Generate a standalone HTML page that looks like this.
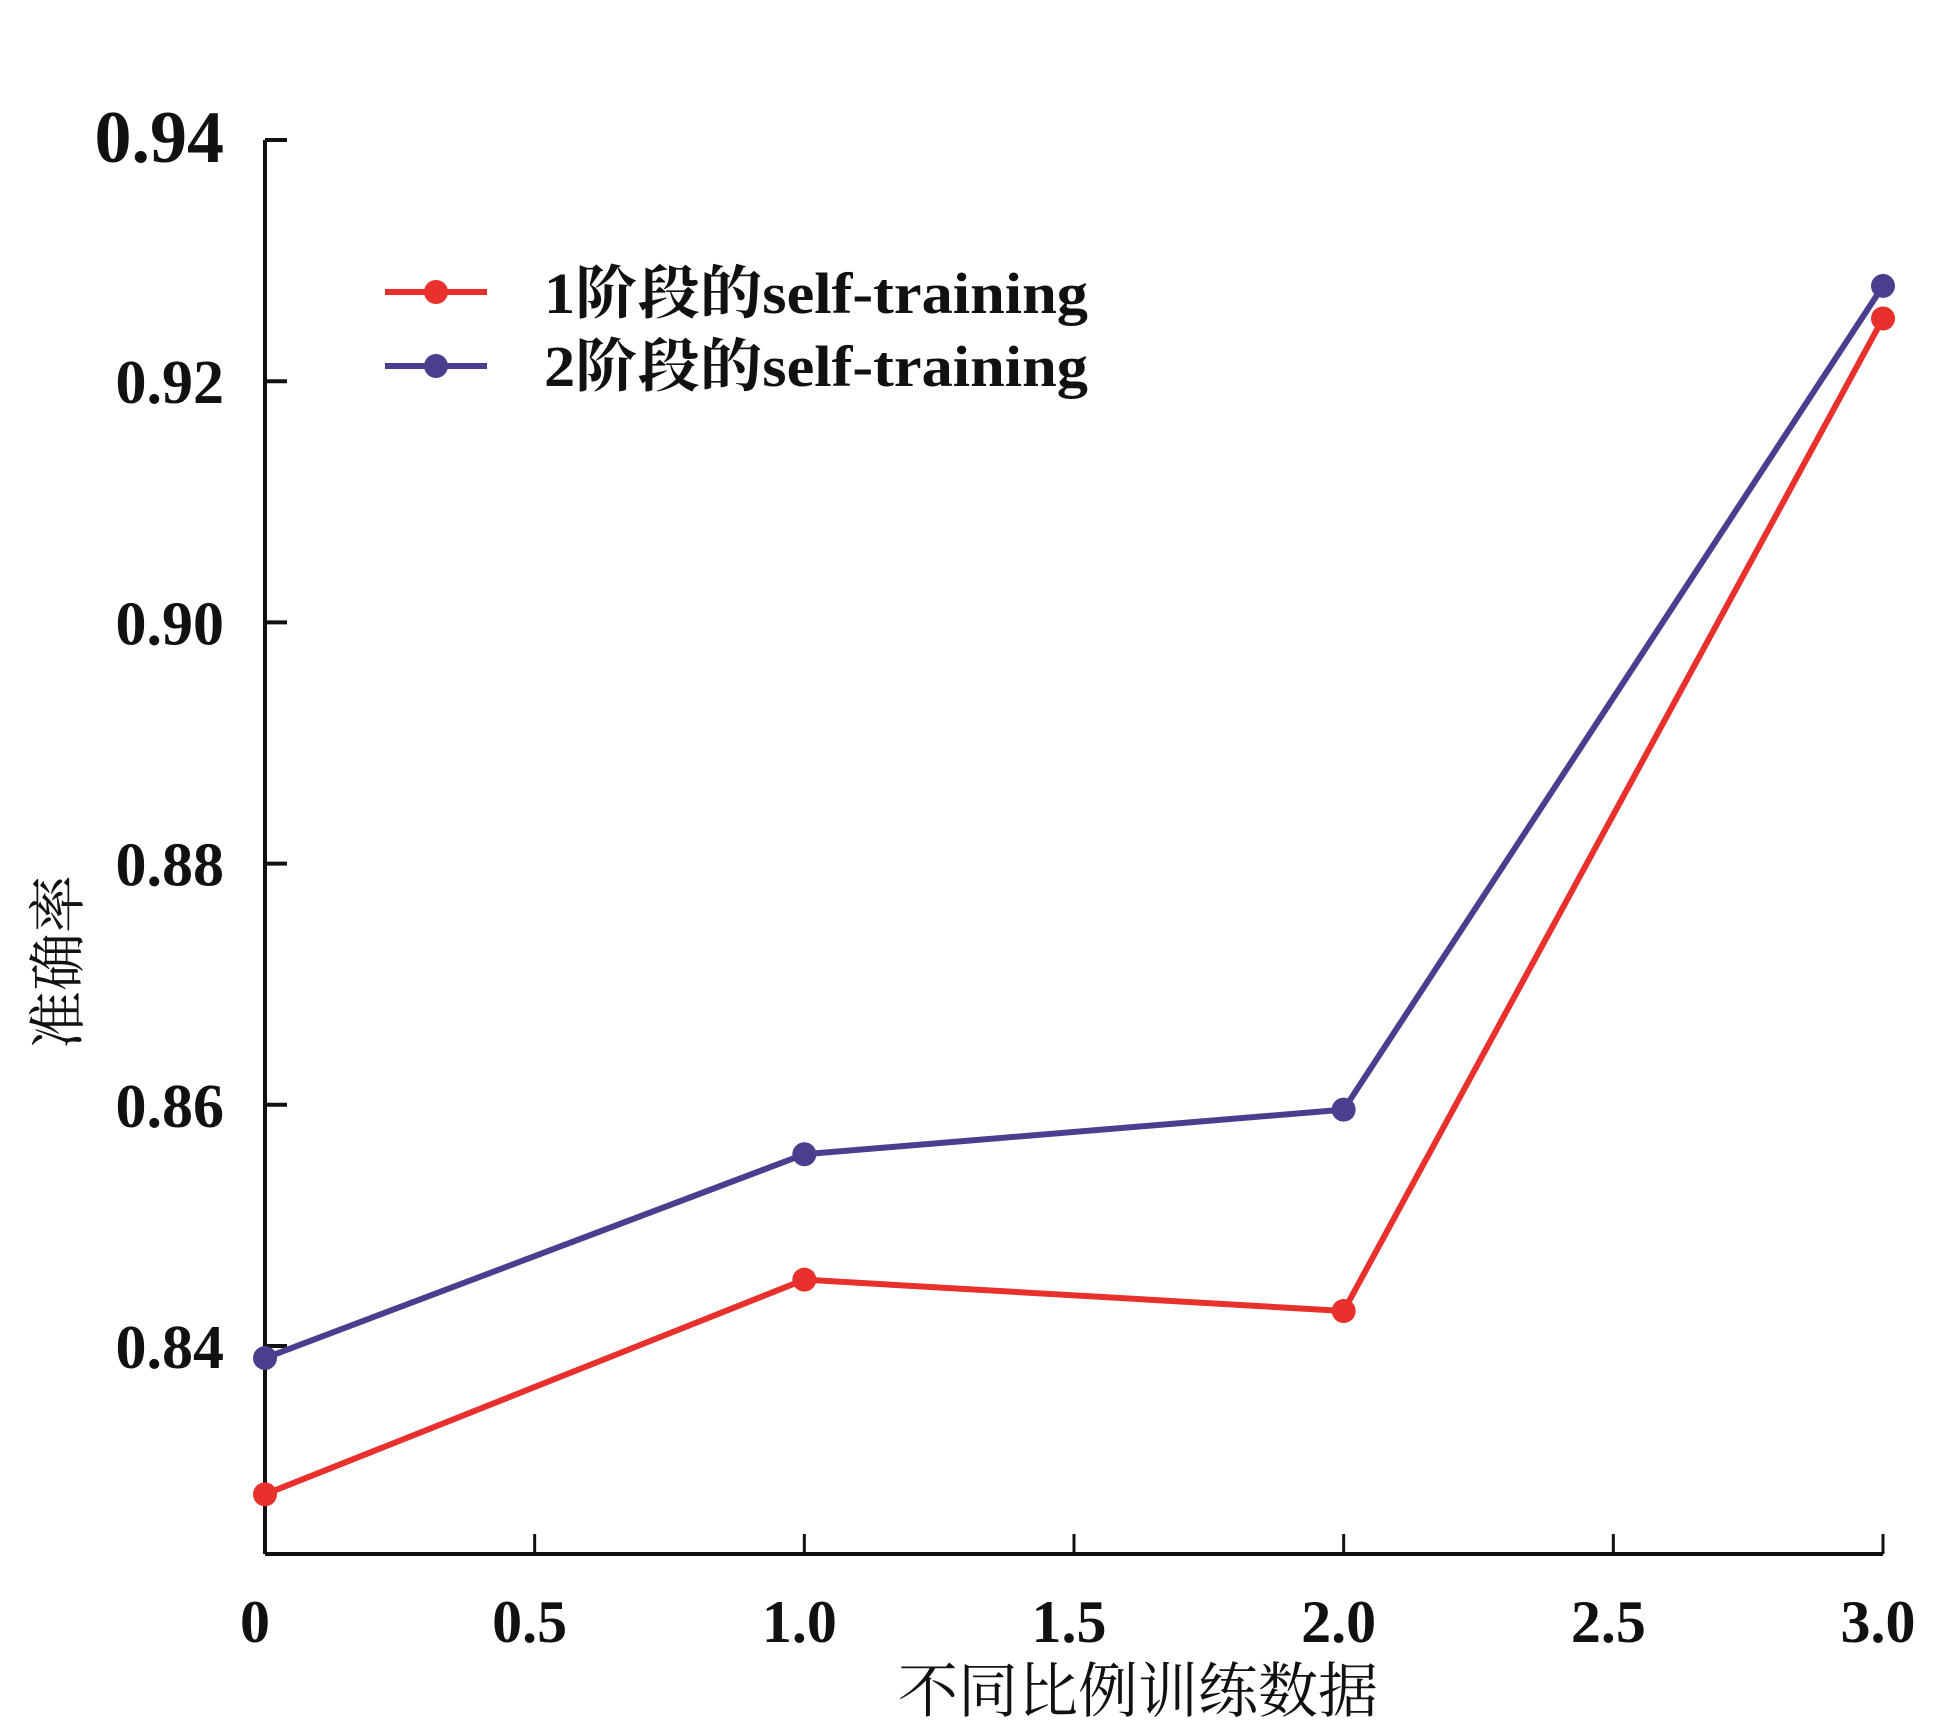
<!DOCTYPE html>
<html><head><meta charset="utf-8"><style>
html,body{margin:0;padding:0;background:#fff;}
svg{display:block;}
</style></head><body>
<svg id="chart" width="1937" height="1723" viewBox="0 0 1937 1723" xmlns="http://www.w3.org/2000/svg">
<g id="axes"></g>
<g id="series"></g>
<g id="legend">
  <line x1="385" y1="292" x2="487" y2="292" stroke="#e8302c" stroke-width="6"/>
  <circle cx="436" cy="292" r="12" fill="#e8302c"/>
  <text x="544" y="313" font-size="58" font-weight="bold" textLength="544" lengthAdjust="spacingAndGlyphs" font-family="'Liberation Serif','Noto Serif CJK SC',serif" fill="#111">1阶段的self-training</text>
  <line x1="385" y1="366" x2="487" y2="366" stroke="#4a3f8f" stroke-width="6"/>
  <circle cx="436" cy="366" r="12" fill="#4a3f8f"/>
  <text x="544" y="386" font-size="58" font-weight="bold" textLength="544" lengthAdjust="spacingAndGlyphs" font-family="'Liberation Serif','Noto Serif CJK SC',serif" fill="#111">2阶段的self-training</text>
</g>
<text x="0" y="0" transform="translate(78,962) rotate(-90)" text-anchor="middle" font-size="58" font-family="'Liberation Serif','Noto Serif CJK SC',serif" fill="#111">准确率</text>
<text x="1138" y="1712" text-anchor="middle" font-size="60" font-family="'Liberation Serif','Noto Serif CJK SC',serif" fill="#111">不同比例训练数据</text>
</svg>
<script>
const xTicks = [0, 0.5, 1.0, 1.5, 2.0, 2.5, 3.0];
const xTickLabels = ["0", "0.5", "1.0", "1.5", "2.0", "2.5", "3.0"];
const yTicks = [0.84, 0.86, 0.88, 0.90, 0.92, 0.94];
const yTickLabels = ["0.84", "0.86", "0.88", "0.90", "0.92", "0.94"];
const xValues = [0, 1, 2, 3];
const stage1Values = [0.8277, 0.8455, 0.8429, 0.9252];
const stage2Values = [0.8390, 0.8559, 0.8596, 0.9279];

const NS = "http://www.w3.org/2000/svg";
const X0 = 265, X1 = 1883, Y0 = 1554;
function xScale(v){ return X0 + (v - 0) / 3 * (X1 - X0); }
function yScale(v){ return 140 + (0.94 - v) / 0.10 * (1346 - 140); }
function mk(tag, attrs, parent){ const e = document.createElementNS(NS, tag); for (const k in attrs) e.setAttribute(k, attrs[k]); parent.appendChild(e); return e; }

const axes = document.getElementById('axes');
const font = "'Liberation Serif','Noto Serif CJK SC',serif";
let yAxis = mk('line', {x1:X0, y1:yScale(0.94), x2:X0, y2:Y0, stroke:'#111', 'stroke-width':4}, axes);


let xAxis = mk('line', {x1:X0, y1:Y0, x2:X1, y2:Y0, stroke:'#111', 'stroke-width':4}, axes);



yTicks.forEach((t, i) => {
  const y = yScale(t);
  const tk = mk('line', {x1:X0, y1:y, x2:X0+22, y2:y, stroke:'#111', 'stroke-width':4}, axes);
  
  
  const big = i === yTicks.length - 1;
  const lb = mk('text', {x:224, y:y+22, 'text-anchor':'end', 'font-size': big ? 74 : 62, 'font-weight':'bold', 'font-family':font, fill:'#111'}, axes);
  lb.textContent = yTickLabels[i];
  
  
});
xTicks.forEach((t, i) => {
  const x = xScale(t);
  const tk = mk('line', {x1:x, y1:Y0, x2:x, y2:Y0-20, stroke:'#111', 'stroke-width':3}, axes);
  
  
  const lb = mk('text', {x: i === 0 ? x-10 : x-5, y:1642, 'text-anchor':'middle', 'font-size':60, 'font-weight':'bold', 'font-family':font, fill:'#111'}, axes);
  lb.textContent = xTickLabels[i];
  
  
});

const series = document.getElementById('series');
function drawSeries(vals, color, name){
  const pts = xValues.map((x, i) => xScale(x) + ',' + yScale(vals[i])).join(' ');
  const pl = mk('polyline', {points:pts, fill:'none', stroke:color, 'stroke-width':6, 'stroke-linejoin':'round'}, series);
  
  
  xValues.forEach((x, i) => {
    const c = mk('circle', {cx:xScale(x), cy:yScale(vals[i]), r:12, fill:color}, series);
    
    
  });
}
drawSeries(stage1Values, '#e8302c', 'stage1');
drawSeries(stage2Values, '#4a3f8f', 'stage2');
</script>
</body></html>
